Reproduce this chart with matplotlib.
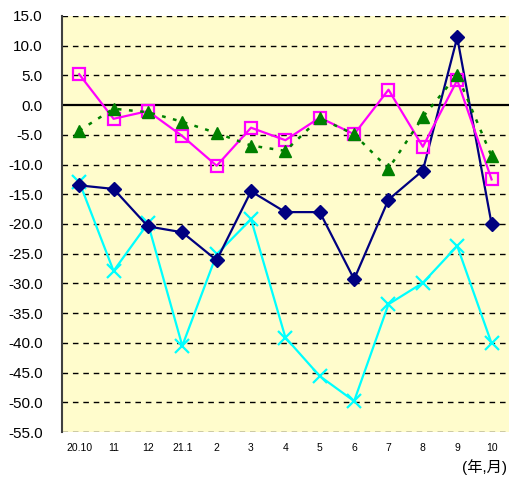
import numpy as np
import matplotlib.pyplot as plt

months = ['20.10', '11', '12', '21.1', '2', '3', '4', '5', '6', '7', '8', '9', '10']
navy_vals = [-13.5, -14.1, -20.4, -21.4, -26.1, -14.5, -18.0, -18.0, -29.3, -15.9, -11.0, 11.4, -20.0]
magenta_vals = [5.2, -2.3, -1.0, -5.2, -10.2, -3.8, -5.9, -2.1, -4.9, 2.6, -7.0, 4.2, -12.5]
green_vals = [-4.3, -0.6, -1.2, -2.8, -4.7, -6.8, -7.7, -2.2, -4.9, -10.7, -2.0, 5.1, -8.6]
cyan_vals = [-12.9, -27.9, -19.9, -40.5, -25.1, -19.2, -39.1, -45.6, -49.8, -33.5, -29.9, -23.7, -40.1]

plt.rcParams['font.family'] = ['Liberation Sans', 'Noto Sans CJK JP', 'DejaVu Sans']

fig = plt.figure(figsize=(5.1, 4.8), dpi=100)
ax = fig.add_axes([0.1216, 0.1, 0.876, 0.8667])
ax.set_facecolor('#FFFCCC')

x = np.arange(len(months))

# grid lines
for v in np.arange(-55, 16, 5):
    if v == 0:
        ax.axhline(0, color='black', lw=1.6, zorder=1)
    else:
        ax.axhline(v, color='black', lw=1.0, ls=(0, (4, 3.5)), zorder=1)

ax.plot(x, cyan_vals, color='#00FFFF', lw=1.6, marker='x', ms=10, mew=1.6, zorder=3)
ax.plot(x, navy_vals, color='#000080', lw=1.6, marker='D', ms=7, zorder=4)
ax.plot(x, magenta_vals, color='#FF00FF', lw=1.6, marker='s', ms=9, mfc='none', mew=1.6, zorder=5)
ax.plot(x, green_vals, color='#008000', lw=1.8, ls=(0, (1.5, 3)), marker='^', ms=9, zorder=6)

ax.set_xlim(-0.5, len(months) - 0.5)
ax.set_ylim(-55, 15)
ax.set_yticks(np.arange(-55, 16, 5))
ax.set_yticklabels(['%.1f' % v for v in np.arange(-55, 16, 5)], fontsize=11)
ax.set_xticks(x)
ax.set_xticklabels(months, fontsize=7.5)
ax.tick_params(axis='x', length=0, pad=8)
ax.tick_params(axis='y', length=0, pad=14)

for s in ['top', 'right', 'bottom']:
    ax.spines[s].set_visible(False)
ax.spines['left'].set_color('#404040')
ax.spines['left'].set_linewidth(1.5)

fig.text(0.995, 0.01, '(年,月)', ha='right', va='bottom', fontsize=11)

fig.savefig('out.png', dpi=100)
